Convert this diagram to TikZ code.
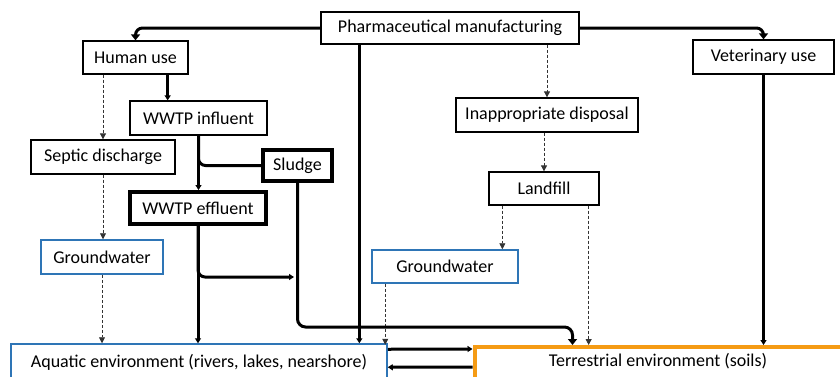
\documentclass[tikz,border=0pt]{standalone}
\usepackage{fontspec}
\setmainfont{Carlito}
\usetikzlibrary{arrows.meta, positioning, calc}
\definecolor{gwblue}{RGB}{46,117,182}
\definecolor{soilorange}{RGB}{245,155,20}

\begin{document}
\begin{tikzpicture}[x=1pt, y=-1pt,
    box/.style={draw, line width=1.3pt, inner sep=0pt, fill=white,
      font=\fontsize{18}{21}\selectfont},
    heavybox/.style={box, line width=4pt},
    waterbox/.style={box, draw=gwblue, line width=1.5pt},
    soilbox/.style={box, draw=soilorange, line width=4pt},
    flow/.style={line width=3pt, -{Triangle[width=9pt,length=6pt]}},
    smallflow/.style={line width=3pt, -{Triangle[width=6pt,length=5pt]}},
    seep/.style={line width=0.8pt, black!80, dash pattern=on 3pt off 2pt,
      -{Triangle[width=6pt,length=6pt]}}]
  \useasboundingbox (0,0) rectangle (840,376);

  % sources
  \node[box, minimum width=258pt, minimum height=32pt] at (450,28)
    (pharma) {Pharmaceutical manufacturing};
  \node[box, minimum width=105pt, minimum height=33pt] at (135.5,57.5)
    (human) {Human use};
  \node[box, minimum width=141pt, minimum height=34pt] at (763.5,57)
    (vet) {Veterinary use};

  % wastewater side
  \node[box, minimum width=137pt, minimum height=34pt] at (198.5,118)
    (influent) {WWTP influent};
  \node[box, minimum width=144pt, minimum height=34pt] at (103,157)
    (septic) {Septic discharge};
  \node[heavybox, minimum width=69pt, minimum height=31pt] at (297.5,165.5)
    (sludge) {Sludge};
  \node[heavybox, minimum width=136pt, minimum height=32pt] at (198,208)
    (effluent) {WWTP effluent};
  \node[waterbox, minimum width=122pt, minimum height=34pt] at (102,257)
    (gwL) {Groundwater};

  % disposal side
  \node[box, minimum width=182pt, minimum height=34pt] at (547,115)
    (disposal) {Inappropriate disposal};
  \node[box, minimum width=110pt, minimum height=33pt] at (544,188.5)
    (landfill) {Landfill};
  \node[waterbox, minimum width=146pt, minimum height=33pt] at (445,266.5)
    (gwR) {Groundwater};

  % receiving environments
  \node[waterbox, minimum width=376pt, minimum height=36pt] at (199,362)
    (aquatic) {Aquatic environment (rivers, lakes, nearshore)};
  \node[soilbox, minimum width=371pt, minimum height=34pt] at (660,364)
    (terr) {};
  \node[font=\fontsize{18}{21}\selectfont] at (658,361) (terrlabel)
    {Terrestrial environment (soils)};
  \coordinate (jn) at (294,277);

  \draw[flow, rounded corners=7pt] (pharma.west) -| (human.north);
  \draw[flow, rounded corners=7pt] (pharma.east) -| (vet.north);
  \draw[smallflow] ([xshift=39pt]pharma.south west)
    -- ([xshift=39pt]pharma.south west |- aquatic.north);
  \draw[seep] (pharma.south -| disposal.north) -- (disposal.north);
  \draw[seep] (disposal.south -| landfill.north) -- (landfill.north);
  \draw[seep] ([xshift=14pt]landfill.south west)
    -- ([xshift=14pt]landfill.south west |- gwR.north);
  \draw[seep] ([xshift=-11pt]landfill.south east)
    -- ([xshift=-11pt]landfill.south east |- terr.north);
  \draw[smallflow] (vet.south) -- (vet.south |- terr.north);

  \draw[smallflow] ([xshift=-21pt]human.south east)
    -- ([xshift=-21pt]human.south east |- influent.north);
  \draw[seep] (septic.north |- human.south) -- (septic.north);
  \draw[seep] (septic.south) -- (septic.south |- gwL.north);
  \draw[seep] (gwL.south) -- (gwL.south |- aquatic.north);
  \draw[seep] (gwR.south west) ++(14pt,0) -- ++(0,-61pt);

  \draw[smallflow] (influent.south) -- (influent.south |- effluent.north);
  \draw[line width=3pt, rounded corners=7pt] (sludge.west) -| (influent.south);
  \draw[smallflow] (effluent.south) -- (effluent.south |- aquatic.north);
  \draw[smallflow, rounded corners=7pt] (effluent.south) |- (jn);
  \draw[flow, rounded corners=8pt] (sludge.south)
    |- ([xshift=100pt,yshift=18pt]terr.north west)
    -- ([xshift=100pt]terr.north west);

  \draw[smallflow] ([yshift=-6pt]aquatic.north east)
    -- ([yshift=-4pt]terr.north west);
  \draw[smallflow] ([yshift=-22pt]terr.north west)
    -- ([yshift=-24pt]aquatic.north east);
\end{tikzpicture}
\end{document}
